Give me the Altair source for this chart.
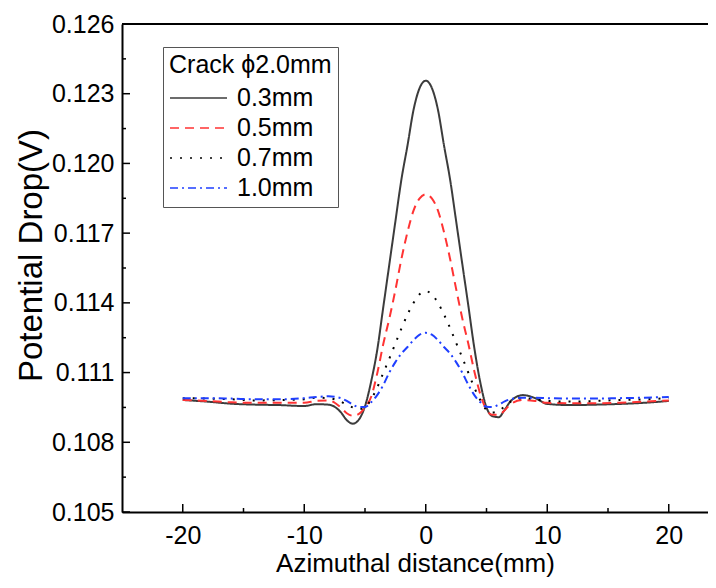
import altair as alt
import pandas as pd

# ---- data ----
x_mm = [-20, -18, -16, -14, -12, -10, -9, -8, -7, -6.5, -6, -5.5, -5, -4.5, -4,
        -3.5, -3, -2.5, -2, -1.5, -1, -0.5, 0, 0.5, 1, 1.5, 2, 2.5, 3, 3.5, 4,
        4.5, 5, 5.5, 6, 6.5, 7, 8, 9, 10, 12, 14, 16, 18, 20]

pd_03 = [0.10982, 0.10975, 0.10966, 0.10962, 0.10960, 0.10956, 0.10964, 0.10962,
         0.10930, 0.10895, 0.10880, 0.10898, 0.10955, 0.11060, 0.11195, 0.11380,
         0.11565, 0.11750, 0.11932, 0.12078, 0.12232, 0.12325, 0.12356, 0.12325,
         0.12232, 0.12078, 0.11932, 0.11752, 0.11570, 0.11390, 0.11205, 0.11055,
         0.10950, 0.10912, 0.10908, 0.10940, 0.10978, 0.11003, 0.10990, 0.10965,
         0.10960, 0.10962, 0.10965, 0.10970, 0.10978]

pd_05 = [0.10982, 0.10978, 0.10972, 0.10970, 0.10970, 0.10970, 0.10978, 0.10980,
         0.10950, 0.10925, 0.10914, 0.10922, 0.10950, 0.10995, 0.11095, 0.11222,
         0.11332, 0.11455, 0.11590, 0.11705, 0.11798, 0.11850, 0.11867, 0.11850,
         0.11798, 0.11705, 0.11590, 0.11460, 0.11335, 0.11225, 0.11105, 0.11005,
         0.10940, 0.10918, 0.10918, 0.10938, 0.10965, 0.10982, 0.10978, 0.10970,
         0.10968, 0.10968, 0.10970, 0.10975, 0.10980]

pd_07 = [0.10990, 0.10988, 0.10985, 0.10980, 0.10982, 0.10985, 0.10992, 0.10990,
         0.10975, 0.10962, 0.10950, 0.10943, 0.10950, 0.10985, 0.11035, 0.11098,
         0.11160, 0.11225, 0.11290, 0.11350, 0.11400, 0.11437, 0.11450, 0.11437,
         0.11400, 0.11350, 0.11292, 0.11228, 0.11165, 0.11100, 0.11035, 0.10980,
         0.10940, 0.10928, 0.10935, 0.10955, 0.10975, 0.10990, 0.10985, 0.10978,
         0.10975, 0.10978, 0.10982, 0.10985, 0.10990]

pd_10 = [0.10990, 0.10990, 0.10988, 0.10985, 0.10985, 0.10990, 0.10995, 0.10998,
         0.10990, 0.10978, 0.10962, 0.10952, 0.10952, 0.10972, 0.11003, 0.11046,
         0.11100, 0.11145, 0.11182, 0.11210, 0.11240, 0.11263, 0.11271, 0.11263,
         0.11240, 0.11210, 0.11182, 0.11145, 0.11100, 0.11048, 0.11003, 0.10972,
         0.10953, 0.10952, 0.10962, 0.10976, 0.10986, 0.10992, 0.10992, 0.10990,
         0.10988, 0.10988, 0.10990, 0.10992, 0.10995]

series = ["0.3mm", "0.5mm", "0.7mm", "1.0mm"]
colors = ["#3c3c3c", "#ff3333", "#000000", "#1f3fff"]
dashes = [[1, 0], [9, 6], [2, 8], [8, 4, 2, 4]]

x_major = [-20, -10, 0, 10, 20]
x_minor = [-15, -5, 5, 15]
y_major = [0.105, 0.108, 0.111, 0.114, 0.117, 0.120, 0.123, 0.126]
y_minor = [0.1065, 0.1095, 0.1125, 0.1155, 0.1185, 0.1215, 0.1245]

rows = []
for name, vals in zip(series, [pd_03, pd_05, pd_07, pd_10]):
    for xv, yv in zip(x_mm, vals):
        rows.append({"x": xv, "v": yv, "s": name})
df = pd.DataFrame(rows)

W, H = 586, 488
FONT = "Liberation Sans"

xs = alt.Scale(domain=[-25, 23.23], nice=False, zero=False)
ys = alt.Scale(domain=[0.105, 0.126], nice=False, zero=False)

ax_x = alt.Axis(values=x_major, labelExpr="'' + datum.value",
                title="Azimuthal distance(mm)", ticks=False,
                domain=True, domainColor="black", domainWidth=2, grid=False,
                labelFontSize=25, titleFontSize=26, labelPadding=11,
                titleBaseline="middle", titleY=51,
                labelFont=FONT, titleFont=FONT,
                labelColor="black", titleColor="black", titleFontWeight="normal")
ax_y = alt.Axis(values=y_major, format=".3f", title="Potential Drop(V)", ticks=False,
                domain=True, domainColor="black", domainWidth=2, grid=False,
                labelFontSize=25, titleFontSize=33, labelPadding=8,
                titleBaseline="middle", titleX=-91, titleY=231,
                labelFont=FONT, titleFont=FONT,
                labelColor="black", titleColor="black", titleFontWeight="normal")

leg = alt.Legend(title="Crack ϕ2.0mm", orient="none", legendX=41, legendY=23,
                 titleFontSize=25, labelFontSize=25, titleFontWeight="normal",
                 titleFont=FONT, labelFont=FONT, titleColor="black", labelColor="black",
                 symbolType="stroke", symbolSize=3249, symbolStrokeWidth=1.5,
                 strokeColor="#555555", fillColor="white", padding=6,
                 clipHeight=26, rowPadding=4,
                 labelOffset=9, titlePadding=7, labelLimit=0)

lines = alt.Chart(df).mark_line(strokeWidth=2, interpolate="monotone", clip=True).encode(
    x=alt.X("x:Q", scale=xs, axis=ax_x),
    y=alt.Y("v:Q", scale=ys, axis=ax_y),
    color=alt.Color("s:N", scale=alt.Scale(domain=series, range=colors), legend=leg),
    strokeDash=alt.StrokeDash("s:N", scale=alt.Scale(domain=series, range=dashes), legend=leg),
)

xmaj = alt.Chart(pd.DataFrame({"x": x_major})).mark_rule(color="black", strokeWidth=1.5).encode(
    x=alt.X("x:Q", scale=xs, axis=ax_x), y=alt.value(H), y2=alt.value(H - 8))
xmin = alt.Chart(pd.DataFrame({"x": x_minor})).mark_rule(color="black", strokeWidth=1.5).encode(
    x=alt.X("x:Q", scale=xs, axis=ax_x), y=alt.value(H), y2=alt.value(H - 4))
ymaj = alt.Chart(pd.DataFrame({"v": y_major})).mark_rule(color="black", strokeWidth=1.5).encode(
    y=alt.Y("v:Q", scale=ys, axis=ax_y), x=alt.value(0), x2=alt.value(8))
ymin = alt.Chart(pd.DataFrame({"v": y_minor})).mark_rule(color="black", strokeWidth=1.5).encode(
    y=alt.Y("v:Q", scale=ys, axis=ax_y), x=alt.value(0), x2=alt.value(4))

# top frame line (the right frame edge lies outside the picture in the reference)
top = alt.Chart(pd.DataFrame({"v": [0.126]})).mark_rule(color="black", strokeWidth=2).encode(
    y=alt.Y("v:Q", scale=ys, axis=ax_y), x=alt.value(0), x2=alt.value(W))

chart = alt.layer(lines, xmaj, xmin, ymaj, ymin, top).properties(
    width=W, height=H,
    autosize=alt.AutoSizeParams(type="none"),
    padding={"left": 114, "top": 16, "right": 0, "bottom": 68},
).configure_view(stroke=None).configure(background="white")

chart.save("out.html", embed_options={"renderer": "svg", "actions": False})
